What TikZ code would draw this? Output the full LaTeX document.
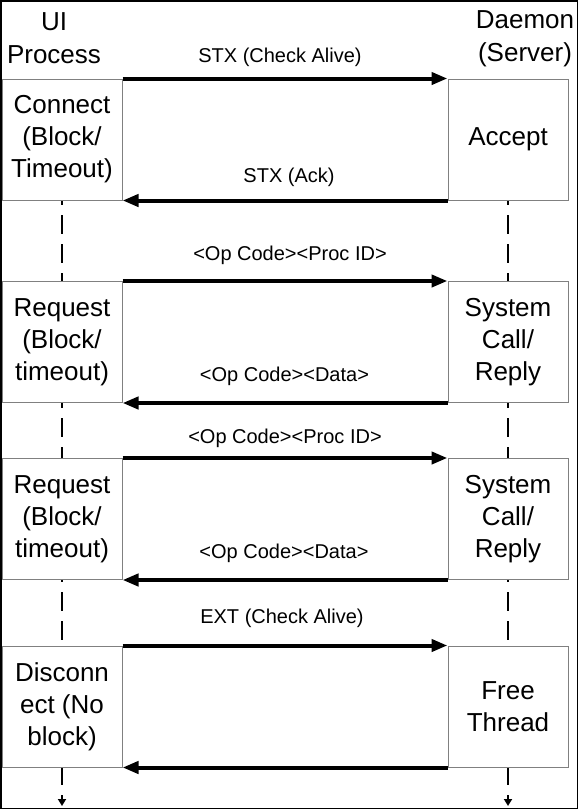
\documentclass[tikz,border=0pt]{standalone}
\usepackage{fontspec}
\setmainfont{Liberation Sans}
\usetikzlibrary{arrows.meta}
\definecolor{boxgray}{HTML}{808080}
\begin{document}
\begin{tikzpicture}[x=1pt,y=-1pt,
  box/.style={draw=boxgray, line width=1pt, fill=white, minimum width=120pt, minimum height=121pt, inner sep=0pt, align=center, font=\fontsize{26}{32}\selectfont},
  msg/.style={line width=4pt, -{Triangle[length=16pt,width=12pt]}},
  lbl/.style={font=\fontsize{20}{24}\selectfont, anchor=base, inner sep=0pt},
  life/.style={line width=2pt, dash pattern=on 19pt off 10pt, -{Triangle[length=7pt,width=8pt]}},
  head/.style={align=center, font=\fontsize{26}{33}\selectfont, inner sep=0pt}]
\useasboundingbox (0,0) rectangle (578,809);
\draw[line width=1.5pt] (0.75,0.75) rectangle (577.25,808.25);
% headers
\node[head] (hui) at (54,38) {UI\\Process};
\node[head] (hd) at (525,38.5) {Daemon\\(Server)};
% lifelines
\coordinate (lt) at (62,157); \coordinate (lb) at (62,806);
\coordinate (rt) at (508,157); \coordinate (rb) at (508,806);
\draw[life] (lt) -- (lb);
\draw[life] (rt) -- (rb);
% boxes
\node[box] (c1) at (62,139.5) {Connect\\(Block/\\Timeout)};
\node[box] (s1) at (508,139.5) {Accept};
\node[box] (c2) at (62,342) {Request\\(Block/\\timeout)};
\node[box] (s2) at (508,342) {System\\Call/\\Reply};
\node[box] (c3) at (62,519) {Request\\(Block/\\timeout)};
\node[box] (s3) at (508,519) {System\\Call/\\Reply};
\node[box] (c4) at (62,706.5) {Disconn\\ect (No\\block)};
\node[box] (s4) at (508,706.5) {Free\\Thread};
% messages
\draw[msg] (c1.north east) -- (s1.north west);
\draw[msg] (s1.south west) -- (c1.south east);
\draw[msg] (c2.north east) -- (s2.north west);
\draw[msg] (s2.south west) -- (c2.south east);
\draw[msg] (c3.north east) -- (s3.north west);
\draw[msg] (s3.south west) -- (c3.south east);
\draw[msg] (c4.north east) -- (s4.north west);
\draw[msg] (s4.south west) -- (c4.south east);
% labels
\node[lbl] (m1) at (280,62) {STX (Check Alive)};
\node[lbl] (m2) at (289,182) {STX (Ack)};
\node[lbl] (m3) at (290,260) {<Op Code><Proc ID>};
\node[lbl] (m4) at (284.5,381) {<Op Code><Data>};
\node[lbl] (m5) at (285,443) {<Op Code><Proc ID>};
\node[lbl] (m6) at (284,558) {<Op Code><Data>};
\node[lbl] (m7) at (282,623) {EXT (Check Alive)};
\end{tikzpicture}
\end{document}
